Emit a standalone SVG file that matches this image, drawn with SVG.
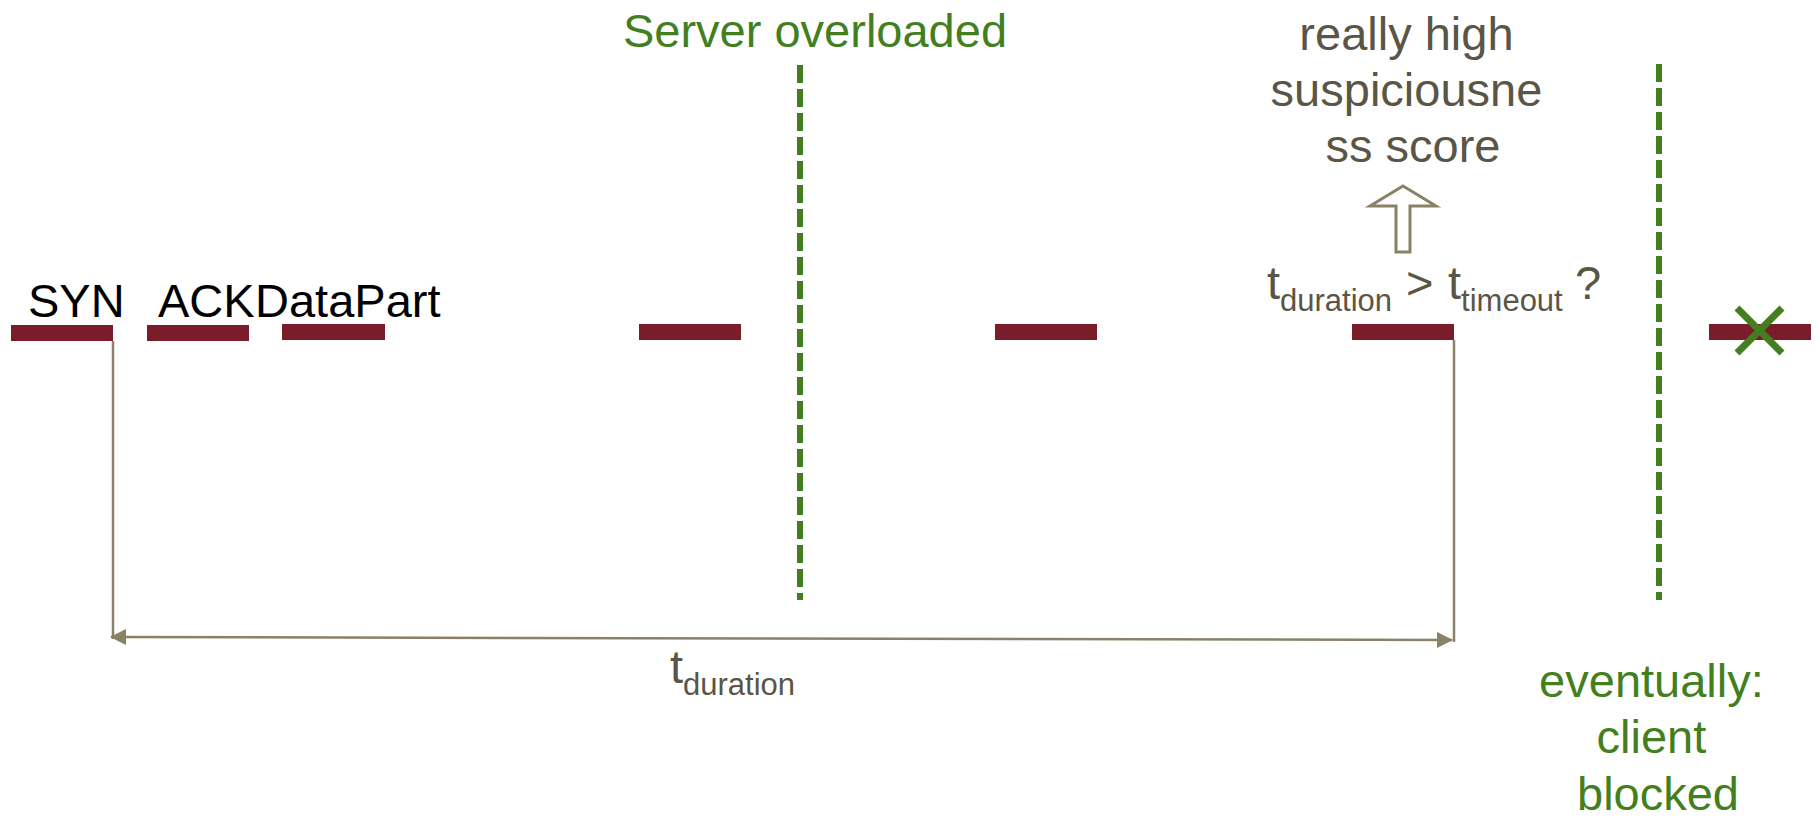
<svg xmlns="http://www.w3.org/2000/svg" width="1819" height="818" viewBox="0 0 1819 818">
  <style>
    text { font-family: "Liberation Sans", Arial, sans-serif; font-size: 47px; }
    .blk { fill: #000000; }
    .gry { fill: #5a5545; }
    .grn { fill: #437f1e; }
    .bar { fill: #7a1c2a; }
    .vdash { stroke: #437f1e; stroke-width: 6; stroke-dasharray: 18 6; fill: none; }
    .dim { stroke: #8a8266; stroke-width: 2.5; fill: none; }
    .sub { font-size: 31px; }
  </style>
  <defs>
    <marker id="tri" viewBox="0 0 16 16" refX="15" refY="8" markerWidth="16" markerHeight="16" markerUnits="userSpaceOnUse" orient="auto-start-reverse">
      <path d="M0,0 L16,8 L0,16 Z" fill="#8a8266"/>
    </marker>
  </defs>

  <!-- packet segments on the time line -->
  <g id="packets">
    <rect class="bar" x="11" y="325" width="102" height="16"/>
    <rect class="bar" x="147" y="325" width="102" height="16"/>
    <rect class="bar" x="282" y="324" width="103" height="16"/>
    <rect class="bar" x="639" y="324" width="102" height="16"/>
    <rect class="bar" x="995" y="324" width="102" height="16"/>
    <rect class="bar" x="1352" y="324" width="102" height="16"/>
    <rect class="bar" x="1709" y="324" width="102" height="16"/>
  </g>

  <g id="labels">
    <text class="blk" x="28" y="317">SYN</text>
    <text class="blk" x="158" y="317">ACK</text>
    <text class="blk" x="255" y="317">DataPart</text>
  </g>

  <g id="server-overloaded">
    <text class="grn" x="815" y="47" text-anchor="middle">Server overloaded</text>
    <line class="vdash" x1="800" y1="65" x2="800" y2="600"/>
  </g>

  <g id="client-blocked">
    <line class="vdash" x1="1659" y1="64" x2="1659" y2="600"/>
    <text class="grn" text-anchor="middle">
      <tspan x="1658" y="697">eventually:</tspan>
      <tspan x="1658" y="753">client</tspan>
      <tspan x="1658" y="810">blocked</tspan>
    </text>
  </g>

  <g id="blocked-cross">
    <path d="M1737,308 L1782,353 M1782,308 L1737,353" stroke="#437f1e" stroke-width="7" fill="none"/>
  </g>

  <g id="score">
    <text class="gry" text-anchor="middle">
      <tspan x="1413" y="50">really high</tspan>
      <tspan x="1413" y="106">suspiciousne</tspan>
      <tspan x="1413" y="162">ss score</tspan>
    </text>
    <path d="M1403,186 L1436,206 L1410,206 L1410,252 L1396,252 L1396,206 L1370,206 Z" fill="#ffffff" stroke="#8a8266" stroke-width="3" stroke-linejoin="miter"/>
  </g>

  <g id="timeout-check">
    <text class="gry" y="299"><tspan x="1267">t</tspan><tspan class="sub" dy="12">duration</tspan><tspan x="1406" dy="-12">&gt;</tspan><tspan x="1448">t</tspan><tspan class="sub" dy="12">timeout</tspan><tspan x="1575" dy="-12">?</tspan></text>
  </g>

  <!-- duration dimension -->
  <g id="connectors">
    <line class="dim" x1="113" y1="341" x2="113" y2="639"/>
    <line class="dim" x1="1454" y1="340" x2="1454" y2="642"/>
    <line class="dim" x1="111" y1="637" x2="1452" y2="640" marker-start="url(#tri)" marker-end="url(#tri)"/>
  </g>

  <g id="duration-label">
    <text class="gry" x="670" y="683">t<tspan class="sub" dy="12">duration</tspan></text>
  </g>
</svg>
